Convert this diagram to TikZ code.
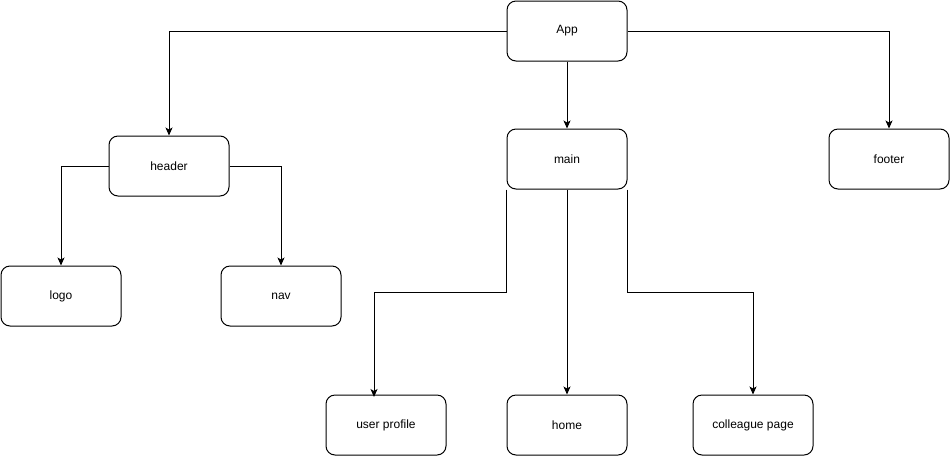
\documentclass[tikz,border=0pt]{standalone}
\usepackage{fontspec}
\setmainfont{Liberation Sans}
\usetikzlibrary{arrows.meta}
\begin{document}
\begin{tikzpicture}[x=1pt,y=-1pt,
  box/.style={draw=black,line width=1pt,rounded corners=9pt,minimum width=120pt,minimum height=60pt,inner sep=0pt,font=\fontsize{12}{14}\selectfont},
  link/.style={draw=black,line width=1pt,-{Stealth[length=8pt,width=7pt,inset=2pt]}},
  plain/.style={draw=black,line width=1pt}]
\useasboundingbox (0,0) rectangle (950,456);
% components
\node[box] (app)     at (567,31)  {App};
\node[box] (header)  at (169,166) {header};
\node[box] (main)    at (567,159) {main};
\node[box] (footer)  at (889,159) {footer};
\node[box] (logo)    at (61,296)  {logo};
\node[box] (nav)     at (281,296) {nav};
\node[box] (profile) at (386,425) {user profile};
\node[box] (home)    at (567,425) {home};
\node[box] (coll)    at (753,425) {colleague page};
% hierarchy links
\draw[link] (app.west) -| (header.north);
\draw[link] (app.south) -- (main.north);
\draw[link] (app.east) -| (footer.north);
\draw[link] (header.west) -| (logo.north);
\draw[link] (header.east) -| (nav.north);
\coordinate (pj) at (374,397);
\draw[link] (main.south west) |- (374,292) -- (pj);
\draw[link] (main.south) -- (home.north);
\draw[link] (main.south east) |- (753,292) -- (coll.north);
\end{tikzpicture}
\end{document}
